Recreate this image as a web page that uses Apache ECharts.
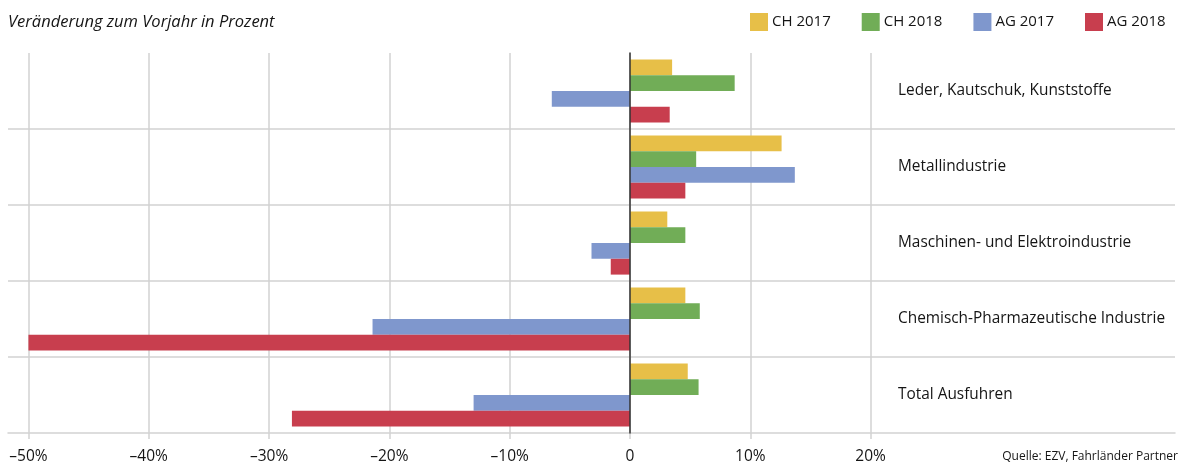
<!DOCTYPE html>
<html>
<head>
<meta charset="utf-8">
<script src="https://cdn.jsdelivr.net/npm/echarts@6/dist/echarts.min.js"></script>
<style>
html,body{margin:0;padding:0;background:#fff;}
#c{width:1183px;height:462px;}
</style>
</head>
<body>
<div id="c"></div>
<script>
var categories = ['Leder, Kautschuk, Kunststoffe', 'Metallindustrie', 'Maschinen- und Elektroindustrie', 'Chemisch-Pharmazeutische Industrie', 'Total Ausfuhren'];
var seriesNames = ['CH 2017', 'CH 2018', 'AG 2017', 'AG 2018'];
var ch2017 = [3.5, 12.6, 3.1, 4.6, 4.8];
var ch2018 = [8.7, 5.5, 4.6, 5.8, 5.7];
var ag2017 = [-6.5, 13.7, -3.2, -21.4, -13.0];
var ag2018 = [3.3, 4.6, -1.6, -50.0, -28.1];
var tickValues = [-50, -40, -30, -20, -10, 0, 10, 20];
var colors = ['#E7BF48', '#71AD57', '#7F97CD', '#C83E4E'];

var FONT = '"Open Sans", "Noto Sans", sans-serif';
var TXT = '#151515';
var chart = echarts.init(document.getElementById('c'), null, {renderer: 'canvas'});
var seriesData = [ch2017, ch2018, ag2017, ag2018];

chart.setOption({
  animation: false,
  title: {
    text: 'Veränderung zum Vorjahr in Prozent',
    left: 3, top: 9,
    textStyle: {fontFamily: FONT, fontStyle: 'italic', fontWeight: 'normal', fontSize: 16.5, color: TXT}
  },
  legend: {
    data: seriesNames,
    left: 750, top: 13,
    padding: 0,
    itemWidth: 18, itemHeight: 18, itemGap: 31,
    icon: 'rect',
    textStyle: {fontFamily: FONT, fontSize: 15, color: TXT, padding: [0, 0, 0, -1]}
  },
  graphic: [{
    type: 'text', right: 5, top: 451,
    style: {text: 'Quelle: EZV, Fahrländer Partner', font: '12px ' + FONT, fill: TXT}
  }],
  grid: {left: 8, right: 8, top: 53, bottom: 29, containLabel: false, outerBoundsMode: 'none'},
  xAxis: {
    type: 'value',
    min: -51.7, max: 45.3,
    axisLine: {show: true, onZero: false, lineStyle: {color: '#d2d2d2', width: 1.5}},
    axisTick: {show: true, length: 6, customValues: tickValues, lineStyle: {color: '#d2d2d2', width: 1.5}},
    axisLabel: {
      customValues: tickValues,
      margin: 16,
      fontFamily: FONT, fontSize: 15.5, color: TXT,
      formatter: function (v) { return v === 0 ? '0' : (v < 0 ? '\u2013' + (-v) + '%' : v + '%'); }
    },
    splitLine: {show: true, lineStyle: {color: '#d2d2d2', width: 1.5}}
  },
  yAxis: [{
    type: 'category',
    data: categories,
    inverse: true,
    axisLine: {show: true, onZero: true, lineStyle: {color: '#333', width: 1.5}},
    axisTick: {show: false},
    axisLabel: {show: false},
    splitLine: {show: true, lineStyle: {color: ['transparent', '#d2d2d2', '#d2d2d2', '#d2d2d2', '#d2d2d2', 'transparent'], width: 1.5}},
    z: 5
  }, {
    type: 'category',
    data: categories,
    inverse: true,
    position: 'right',
    axisLine: {show: false, onZero: false},
    axisTick: {show: false},
    splitLine: {show: false},
    axisLabel: {inside: true, align: 'left', margin: 277, fontFamily: FONT, fontSize: 15.4, color: TXT}
  }],
  series: seriesNames.map(function (n, i) {
    return {
      name: n, type: 'bar', yAxisIndex: 0,
      data: seriesData[i],
      barWidth: 15.8, barGap: '0%',
      itemStyle: {color: colors[i]}
    };
  })
});
</script>
</body>
</html>
